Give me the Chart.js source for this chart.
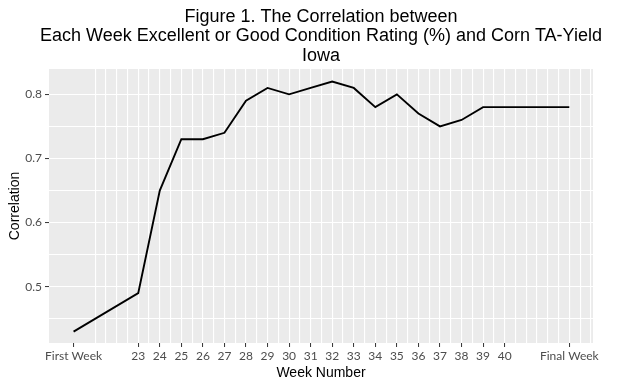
<!DOCTYPE html>
<html>
<head>
<meta charset="utf-8">
<script src="https://cdn.jsdelivr.net/npm/chart.js@4"></script>
<style>
  html, body { margin: 0; padding: 0; background: #fff; }
  #wrap { width: 621px; height: 390px; }
</style>
</head>
<body>
<div id="wrap"><canvas id="chart" width="621" height="390"></canvas></div>
<script>
// correlation by week, iowa corn
// first/final week sit a bit apart from the numbered weeks

const titleLines = [
  "Figure 1. The Correlation between",
  "Each Week Excellent or Good Condition Rating (%) and Corn TA-Yield",
  "Iowa"
];

const weeks = [20, 23, 24, 25, 26, 27, 28, 29, 30, 31, 32, 33, 34, 35, 36, 37, 38, 39, 40, 43];
const weekLabels = ["First Week", "23", "24", "25", "26", "27", "28", "29", "30", "31",
  "32", "33", "34", "35", "36", "37", "38", "39", "40", "Final Week"];
const corr = [0.43, 0.49, 0.65, 0.73, 0.73, 0.74, 0.79, 0.81, 0.80, 0.81,
  0.82, 0.81, 0.78, 0.80, 0.77, 0.75, 0.76, 0.78, 0.78, 0.78];

const yTicks = [0.5, 0.6, 0.7, 0.8];

// gridlines: every half week from 21 on, plus the labelled spots
const xGrid = [];
for (let v = 21; v <= 44; v += 0.5) xGrid.push(v);
const xTickVals = [weeks[0], ...xGrid];

const yGrid = [];
for (let v = 0.45; v < 0.84; v += 0.05) yGrid.push(Math.round(v * 100) / 100);

const isLabelled = v => weeks.includes(v);
const isMajorY = v => yTicks.some(t => Math.abs(t - v) < 1e-6);

const panelBg = {
  id: "panelBg",
  beforeDraw(chart) {
    const { ctx, chartArea: a } = chart;
    ctx.save();
    ctx.fillStyle = "#ebebeb";
    ctx.fillRect(a.left, a.top, a.right - a.left, a.bottom - a.top);
    ctx.restore();
  }
};

// ggplot centres the title on the panel, not the canvas
const panelTitle = {
  id: "panelTitle",
  afterDraw(chart) {
    const { ctx, chartArea: a } = chart;
    const cx = (a.left + a.right) / 2;
    ctx.save();
    ctx.fillStyle = "#000";
    ctx.font = '18px "Liberation Sans", Arial, sans-serif';
    ctx.textAlign = "center";
    ctx.textBaseline = "alphabetic";
    titleLines.forEach((t, i) => ctx.fillText(t, cx, 21.5 + i * 19.5));
    ctx.restore();
  }
};

new Chart(document.getElementById("chart"), {
  type: "line",
  data: {
    datasets: [{
      data: weeks.map((w, i) => ({ x: w, y: corr[i] })),
      borderColor: "#000",
      borderWidth: 1.9,
      pointRadius: 0,
      tension: 0,
      fill: false
    }]
  },
  options: {
    responsive: false,
    animation: false,
    layout: { padding: { top: 69, right: 28, left: 0, bottom: 0 } },
    plugins: { legend: { display: false }, tooltip: { enabled: false } },
    scales: {
      x: {
        type: "linear",
        min: 18.86,
        max: 44.1,
        afterBuildTicks: axis => { axis.ticks = xTickVals.map(v => ({ value: v })); },
        afterFit: axis => { axis.height = 47; },
        border: { display: false },
        grid: {
          color: c => (c.tick && c.tick.value === weeks[0]) ? "rgba(0,0,0,0)" : "#ffffff",
          lineWidth: 1.1,
          drawTicks: true,
          tickLength: 4,
          tickColor: c => (c.tick && isLabelled(c.tick.value)) ? "#333333" : "rgba(0,0,0,0)",
          tickWidth: 1
        },
        ticks: {
          autoSkip: false,
          maxRotation: 0,
          minRotation: 0,
          padding: 2,
          color: "#4d4d4d",
          font: { family: "Lato, 'Open Sans', sans-serif", size: 12 },
          callback: v => {
            const i = weeks.indexOf(v);
            return i >= 0 ? weekLabels[i] : "";
          }
        },
        title: {
          display: true,
          text: "Week Number",
          color: "#000",
          font: { family: "'Liberation Sans', Arial, sans-serif", size: 14 },
          padding: { top: 0, bottom: 8 }
        }
      },
      y: {
        min: 0.4122,
        max: 0.8395,
        afterBuildTicks: axis => { axis.ticks = yGrid.map(v => ({ value: v })); },
        afterFit: axis => { axis.width = 49; },
        border: { display: false },
        grid: {
          color: "#ffffff",
          lineWidth: 1.1,
          drawTicks: true,
          tickLength: 4,
          tickColor: c => (c.tick && isMajorY(c.tick.value)) ? "#333333" : "rgba(0,0,0,0)",
          tickWidth: 1
        },
        ticks: {
          padding: 3,
          color: "#4d4d4d",
          font: { family: "Lato, 'Open Sans', sans-serif", size: 12 },
          callback: v => isMajorY(v) ? v.toFixed(1) : ""
        },
        title: {
          display: true,
          text: "Correlation",
          color: "#000",
          font: { family: "'Liberation Sans', Arial, sans-serif", size: 14 },
          padding: { top: 7, bottom: 0 }
        }
      }
    }
  },
  plugins: [panelBg, panelTitle]
});
</script>
</body>
</html>
